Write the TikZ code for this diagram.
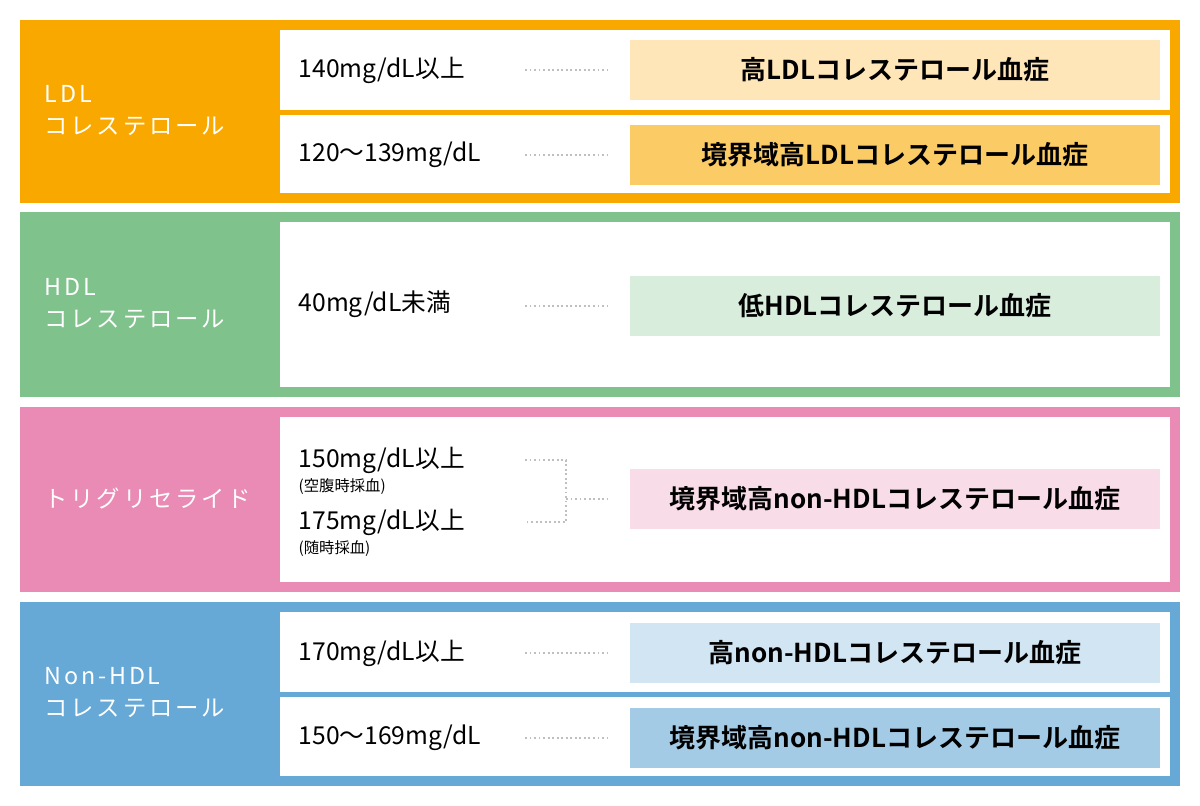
\documentclass[tikz,border=0pt]{standalone}
\usepackage{fontspec}
\setmainfont{Noto Sans CJK JP}
\newfontfamily\jpbold{Noto Sans CJK JP Bold}
\begin{document}
\begin{tikzpicture}[x=0.75pt,y=-0.75pt,
    row/.style={fill=white},
    cat/.style={anchor=west, text=white, font=\addfontfeatures{LetterSpace=12}\fontsize{17.5}{24}\selectfont, align=left},
    val/.style={anchor=west, font=\fontsize{18.5}{20}\selectfont},
    note/.style={anchor=west, font=\fontsize{11.5}{12}\selectfont},
    res/.style={minimum width=397.5pt, minimum height=45pt, font=\jpbold\fontsize{19.5}{20}\selectfont},
    dots/.style={gray!50, dotted, line width=1.4pt}
]
    \definecolor{cLDL}{HTML}{F9A800}
    \definecolor{cLDLlight}{HTML}{FFE6B8}
    \definecolor{cHDL}{HTML}{7FC28C}
    \definecolor{cTG}{HTML}{E98BB4}
    \definecolor{cNH}{HTML}{66A8D6}
    \useasboundingbox (0,0) rectangle (1200,806);
    \fill[white] (0,0) rectangle (1200,806);

    % Panels
    \fill[cLDL] (20,20) rectangle (1180,203);
    \fill[cHDL] (20,212) rectangle (1180,397);
    \fill[cTG] (20,407) rectangle (1180,592);
    \fill[cNH] (20,602) rectangle (1180,786);
    \foreach \a/\b in {30/110, 115/193, 222/387, 417/582, 612/692, 697/776}
        \fill[row] (280,\a) rectangle (1170,\b);

    % Categories
    \node[cat] (ldl) at (40,111) {LDL\\コレステロール};
    \node[cat] (hdl) at (40,304) {HDL\\コレステロール};
    \node[cat] (tg) at (40,499) {トリグリセライド};
    \node[cat] (nh) at (40,693) {Non-HDL\\コレステロール};

    % Values
    \node[val] (v1) at (294,70) {140mg/dL以上};
    \node[val] (v2) at (294,155) {120～139mg/dL};
    \node[val] (v3) at (294,304) {40mg/dL未満};
    \node[val] (v4) at (294,460) {150mg/dL以上};
    \node[note] (n4) at (294,487) {(空腹時採血)};
    \node[val] (v5) at (294,522) {175mg/dL以上};
    \node[note] (n5) at (294,549) {(随時採血)};
    \node[val] (v6) at (294,653) {170mg/dL以上};
    \node[val] (v7) at (294,738) {150～169mg/dL};

    % Results
    \node[res, fill=cLDLlight] (r1) at (895,70) {高LDLコレステロール血症};
    \node[res, fill=cLDL!60!white] (r2) at (895,155) {境界域高LDLコレステロール血症};
    \node[res, fill=cHDL!30!white] (r3) at (895,306) {低HDLコレステロール血症};
    \node[res, fill=cTG!30!white] (r4) at (895,499) {境界域高non-HDLコレステロール血症};
    \node[res, fill=cNH!30!white] (r5) at (895,653) {高non-HDLコレステロール血症};
    \node[res, fill=cNH!60!white] (r6) at (895,738) {境界域高non-HDLコレステロール血症};

    % Dotted leaders
    \foreach \y in {70,155,306,653,738}
        \draw[dots] (525,\y) -- (608,\y);
    \coordinate (j) at (566,499);
    \draw[dots] (525,460) -- (566,460) -- (566,522) -- (525,522);
    \draw[dots] (j) -- (608,499);
\end{tikzpicture}
\end{document}
